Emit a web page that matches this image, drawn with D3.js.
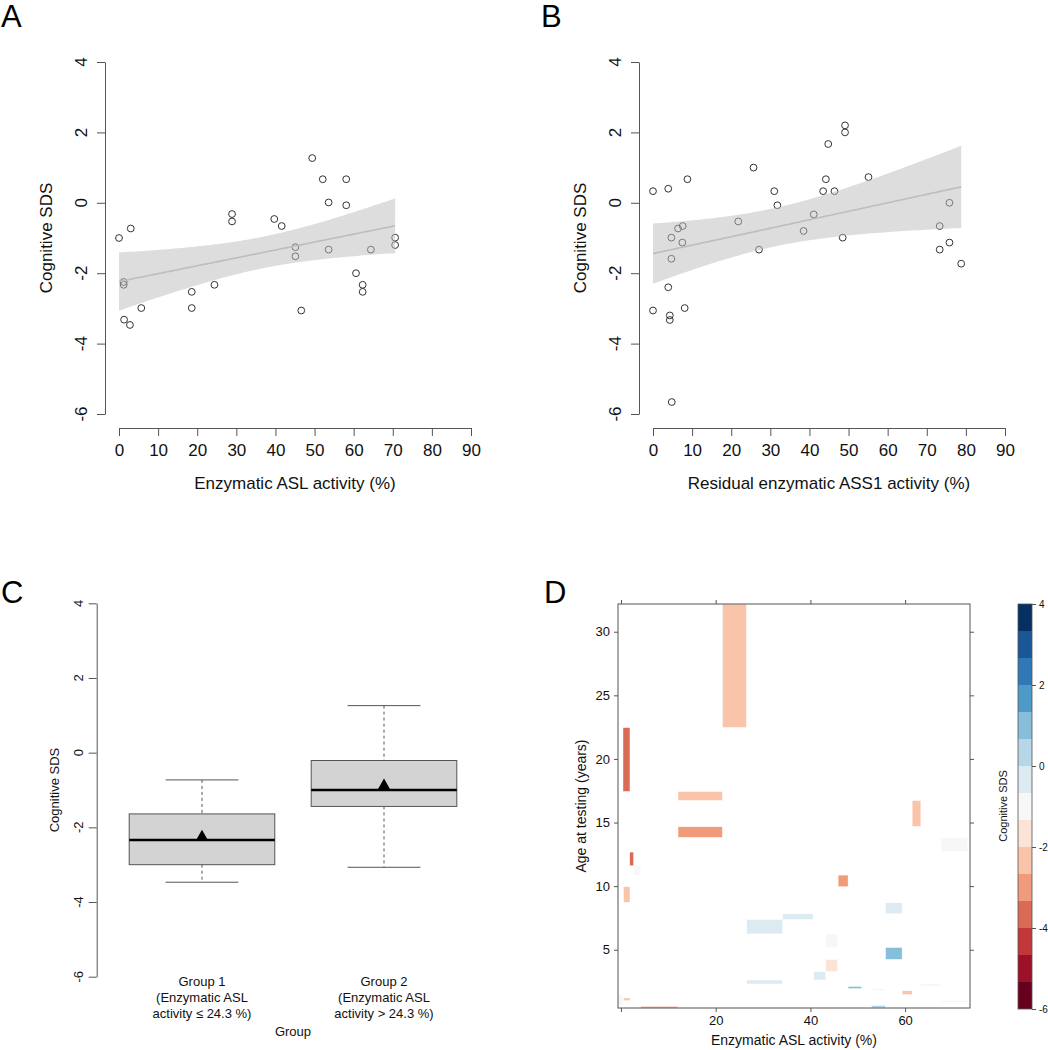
<!DOCTYPE html>
<html>
<head>
<meta charset="utf-8">
<script src="https://cdn.jsdelivr.net/npm/d3@7"></script>
<style>
  body { margin: 0; background: #fff; }
  svg { display: block; font-family: "Liberation Sans", Arial, sans-serif; }
</style>
</head>
<body>
<div id="chart"></div>
<script>
// ---- panel A: ASL activity vs cognitive SDS
var aslActivity = [0, 3.0, 1.2, 1.2, 1.3, 2.8, 5.7, 18.6, 18.6, 24.4, 28.9, 28.9, 39.7, 41.6, 45.1,
  45.1, 46.6, 49.4, 52.1, 53.6, 53.6, 58.1, 58.1, 60.6, 62.3, 62.3, 64.4, 70.6, 70.6];
var aslSDS = [-1.0, -0.73, -2.25, -2.33, -3.32, -3.47, -2.99, -2.53, -2.99, -2.33, -0.32, -0.53, -0.46, -0.66, -1.26,
  -1.52, -3.06, 1.27, 0.67, 0.01, -1.33, 0.67, -0.07, -2.0, -2.33, -2.53, -1.33, -0.99, -1.2];

// ---- panel B: residual ASS1 activity vs cognitive SDS
var assActivity = [0, 3.9, 8.8, 0, 3.9, 4.3, 4.3, 8.1, 4.7, 4.7, 6.4, 7.6, 7.5, 21.8, 25.7, 27.1, 31.0,
  31.8, 38.5, 41.1, 43.5, 44.2, 44.8, 46.4, 48.5, 49.1, 49.1, 55.1, 73.3, 73.3, 75.8, 75.8, 78.8, 4.8];
var assSDS = [0.33, 0.40, 0.67, -3.06, -2.40, -3.2, -3.33, -2.99, -0.99, -1.59, -0.73, -0.66, -1.13, -0.53, 1.0, -1.33, 0.33,
  -0.07, -0.80, -0.33, 0.33, 0.67, 1.67, 0.33, -0.99, 2.2, 2.0, 0.73, -0.66, -1.33, 0.0, -1.13, -1.73, -5.66];

// ---- panel C: box plot summaries
var groupLine1 = ["Group 1", "Group 2"];
var groupLine2 = ["(Enzymatic ASL", "(Enzymatic ASL"];
var groupLine3 = ["activity \u2264 24.3 %)", "activity > 24.3 %)"];
var boxMin = [-3.47, -3.07];
var boxQ1 = [-3.0, -1.44];
var boxMedian = [-2.34, -1.0];
var boxQ3 = [-1.64, -0.21];
var boxMax = [-0.73, 1.26];
var boxMean = [-2.25, -0.88];

// ---- panel D: level plot cells (x = ASL activity, y = age)
var cellX0 = [21.42, 0.42, 12.04, 61.48, 12.04, 1.84, 2.75, 0.51, 67.55, 45.85, 26.56, 34.16, 55.86, 43.25,
  55.86, 43.25, 40.65, 26.56, 47.96, 52.90, 59.37, 63.32, 67.55, 0.51, -0.63, 4.16, 52.90];
var cellX1 = [26.49, 1.90, 21.42, 63.32, 21.42, 2.68, 4.16, 1.90, 73.19, 47.96, 34.16, 40.57, 59.37, 45.72,
  59.37, 45.72, 43.25, 34.16, 50.79, 55.86, 61.48, 67.55, 73.19, 1.90, 0.42, 12.04, 55.86];
var cellY0 = [22.47, 17.44, 16.73, 14.69, 13.83, 11.60, 10.87, 8.72, 12.73, 9.95, 6.24, 7.38, 7.83, 5.18,
  4.24, 3.28, 2.62, 2.31, 1.94, 1.78, 1.47, 2.12, 0.86, 1.00, 0.68, 0.42, 0.42];
var cellY1 = [32.18, 22.47, 17.44, 16.73, 14.67, 12.68, 11.60, 9.95, 13.83, 10.87, 7.38, 7.83, 8.70, 6.24,
  5.18, 4.24, 3.28, 2.62, 2.12, 1.94, 1.78, 2.31, 1.02, 1.21, 1.47, 0.55, 0.63];
var cellSDS = [-2.33, -3.47, -2.25, -2.33, -2.99, -3.47, -1.0, -2.33, -1.2, -3.06, -0.53, -0.46, -0.07, -1.26,
  0.67, -1.52, -0.66, -0.32, 1.27, -1.3, -2.03, -1.33, -0.99, -2.25, -1.0, -2.99, 0.01];

var sdsTicks = [-6, -4, -2, 0, 2, 4];
var pctTicks = [0, 10, 20, 30, 40, 50, 60, 70, 80, 90];
var ageTicks = [5, 10, 15, 20, 25, 30];
var heatXTicks = [0, 20, 40, 60];

var svg = d3.select("#chart").append("svg")
    .attr("width", 1048)
    .attr("height", 1050);

var AXIS = "#555";
var TEXT = "#111";

function panelLetter(x, y, s) {
  svg.append("text").attr("x", x).attr("y", y)
      .style("font-size", "31px").style("fill", "#000").text(s);
}

// rotated y labels, R style (parallel to axis)
function rotatedLabels(g, y, vals, baseX, size) {
  g.selectAll(null).data(vals).enter().append("text")
      .attr("transform", function(d) { return "translate(" + baseX + "," + y(d) + ") rotate(-90)"; })
      .attr("text-anchor", "middle")
      .style("font-size", size).style("fill", TEXT)
      .text(function(d) { return String(d); });
}

function styleAxis(g) {
  g.selectAll("path, line").attr("stroke", AXIS);
  g.selectAll("text").style("fill", TEXT);
}

function fitBand(xs, ys) {
  var n = xs.length, mx = d3.mean(xs), my = d3.mean(ys);
  var sxx = d3.sum(xs, function(x) { return (x - mx) * (x - mx); });
  var sxy = d3.sum(xs, function(x, i) { return (x - mx) * (ys[i] - my); });
  var b = sxy / sxx, a = my - b * mx;
  var rss = d3.sum(xs, function(x, i) { var r = ys[i] - a - b * x; return r * r; });
  var s = Math.sqrt(rss / (n - 2));
  var t = 1.96 + 2.4 / (n - 2);
  var lo = d3.min(xs), hi = d3.max(xs);
  return d3.range(0, 81).map(function(k) {
    var x = lo + (hi - lo) * k / 80;
    var f = a + b * x;
    var se = s * Math.sqrt(1 / n + (x - mx) * (x - mx) / sxx);
    return { x: x, fit: f, lo: f - t * se, hi: f + t * se };
  });
}

function scatterPanel(xs, ys, x0, title) {
  var x = d3.scaleLinear().domain([0, 90]).range([x0 + 14, x0 + 366]);
  var y = d3.scaleLinear().domain([-6, 4]).range([414, 62]);
  var g = svg.append("g");

  g.append("g").attr("transform", "translate(0,428)")
      .call(d3.axisBottom(x).tickValues(pctTicks).tickSize(8).tickSizeOuter(0).tickPadding(8))
      .call(styleAxis)
      .selectAll("text").style("font-size", "17px").attr("font-family", null);
  g.append("g").attr("transform", "translate(" + x0 + ",0)")
      .call(d3.axisLeft(y).tickValues(sdsTicks).tickSize(8).tickSizeOuter(0).tickFormat(""))
      .call(styleAxis);
  rotatedLabels(g, y, sdsTicks, x0 - 18, "17px");

  g.append("text")
      .attr("transform", "translate(" + (x0 - 53) + "," + 238 + ") rotate(-90)")
      .attr("text-anchor", "middle").style("font-size", "17px").style("fill", TEXT)
      .text("Cognitive SDS");
  g.append("text").attr("x", x0 + 190).attr("y", 489)
      .attr("text-anchor", "middle").style("font-size", "17px").style("fill", TEXT)
      .text(title);

  g.selectAll("circle.pt").data(xs).enter().append("circle")
      .attr("class", "pt")
      .attr("cx", function(d) { return x(d); })
      .attr("cy", function(d, i) { return y(ys[i]); })
      .attr("r", 3.4)
      .attr("fill", "none").attr("stroke", "#333").attr("stroke-width", 1);

  var band = fitBand(xs, ys);
  g.append("path").datum(band)
      .attr("d", d3.area().x(function(d) { return x(d.x); })
        .y0(function(d) { return y(d.lo); }).y1(function(d) { return y(d.hi); }))
      .attr("fill", "rgb(188,188,188)").attr("fill-opacity", 0.5);
  g.append("path").datum(band)
      .attr("d", d3.line().x(function(d) { return x(d.x); }).y(function(d) { return y(d.fit); }))
      .attr("fill", "none").attr("stroke", "#bdbdbd").attr("stroke-width", 1.6);
}

panelLetter(1, 27, "A");
scatterPanel(aslActivity, aslSDS, 105, "Enzymatic ASL activity (%)");
panelLetter(541, 27, "B");
scatterPanel(assActivity, assSDS, 639, "Residual enzymatic ASS1 activity (%)");

// ---- panel C
panelLetter(1, 603, "C");
(function() {
  var x = d3.scaleLinear().domain([0.5, 2.5]).range([111, 475]);
  var y = d3.scaleLinear().domain([-6, 4]).range([976.7, 603.3]);
  var g = svg.append("g");
  g.append("g").attr("transform", "translate(96.7,0)")
      .call(d3.axisLeft(y).tickValues(sdsTicks).tickSize(8).tickSizeOuter(0).tickFormat(""))
      .call(styleAxis);
  rotatedLabels(g, y, sdsTicks, 83, "13px");
  g.append("text")
      .attr("transform", "translate(59," + y(-1) + ") rotate(-90)")
      .attr("text-anchor", "middle").style("font-size", "13px").style("fill", TEXT)
      .text("Cognitive SDS");

  var idx = [0, 1];
  var boxes = g.selectAll("g.box").data(idx).enter().append("g").attr("class", "box");
  boxes.append("line")
      .attr("x1", function(i) { return x(i + 1); }).attr("x2", function(i) { return x(i + 1); })
      .attr("y1", function(i) { return y(boxMax[i]); }).attr("y2", function(i) { return y(boxQ3[i]); })
      .attr("stroke", AXIS).attr("stroke-dasharray", "3,3");
  boxes.append("line")
      .attr("x1", function(i) { return x(i + 1); }).attr("x2", function(i) { return x(i + 1); })
      .attr("y1", function(i) { return y(boxQ1[i]); }).attr("y2", function(i) { return y(boxMin[i]); })
      .attr("stroke", AXIS).attr("stroke-dasharray", "3,3");
  [boxMax, boxMin].forEach(function(arr) {
    boxes.append("line")
        .attr("x1", function(i) { return x(i + 0.8); }).attr("x2", function(i) { return x(i + 1.2); })
        .attr("y1", function(i) { return y(arr[i]); }).attr("y2", function(i) { return y(arr[i]); })
        .attr("stroke", AXIS).attr("stroke-width", 1);
  });
  boxes.append("rect")
      .attr("x", function(i) { return x(i + 0.6); })
      .attr("width", function(i) { return x(i + 1.4) - x(i + 0.6); })
      .attr("y", function(i) { return y(boxQ3[i]); })
      .attr("height", function(i) { return y(boxQ1[i]) - y(boxQ3[i]); })
      .attr("fill", "#d3d3d3").attr("stroke", AXIS).attr("stroke-width", 1);
  boxes.append("line")
      .attr("x1", function(i) { return x(i + 0.6); }).attr("x2", function(i) { return x(i + 1.4); })
      .attr("y1", function(i) { return y(boxMedian[i]); }).attr("y2", function(i) { return y(boxMedian[i]); })
      .attr("stroke", "#000").attr("stroke-width", 2.6);
  boxes.append("path")
      .attr("transform", function(i) { return "translate(" + x(i + 1) + "," + y(boxMean[i]) + ")"; })
      .attr("d", d3.symbol(d3.symbolTriangle, 62))
      .attr("fill", "#000");

  var lines = [groupLine1, groupLine2, groupLine3];
  lines.forEach(function(arr, k) {
    g.selectAll(null).data(idx).enter().append("text")
        .attr("x", function(i) { return x(i + 1); })
        .attr("y", 986 + k * 16)
        .attr("text-anchor", "middle").style("font-size", "13px").style("fill", TEXT)
        .text(function(i) { return arr[i]; });
  });
  g.append("text").attr("x", 293).attr("y", 1036)
      .attr("text-anchor", "middle").style("font-size", "13px").style("fill", TEXT)
      .text("Group");
})();

// ---- panel D
panelLetter(544, 603, "D");
(function() {
  var x = d3.scaleLinear().domain([-0.63, 73.7]).range([618, 970]);
  var y = d3.scaleLinear().domain([0.42, 32.18]).range([1008, 604]);
  var brewer = ["#67001f", "#b2182b", "#d6604d", "#f4a582", "#fddbc7", "#f7f7f7",
    "#d1e5f0", "#92c5de", "#4393c3", "#2166ac", "#053061"];
  var palette = d3.quantize(d3.piecewise(d3.interpolateRgb, brewer), 15);
  var breaks = d3.range(1, 15).map(function(k) { return -6 + k * 10 / 15; });
  var color = d3.scaleThreshold().domain(breaks).range(palette);
  var g = svg.append("g");

  g.selectAll("rect.cell").data(cellSDS).enter().append("rect")
      .attr("class", "cell")
      .attr("x", function(d, i) { return x(cellX0[i]); })
      .attr("width", function(d, i) { return x(cellX1[i]) - x(cellX0[i]); })
      .attr("y", function(d, i) { return y(cellY1[i]); })
      .attr("height", function(d, i) { return y(cellY0[i]) - y(cellY1[i]); })
      .attr("fill", function(d) { return color(d); })
      .attr("stroke", "#fff").attr("stroke-width", 0.5);

  g.append("rect").attr("x", 618).attr("y", 604).attr("width", 352).attr("height", 404)
      .attr("fill", "none").attr("stroke", AXIS).attr("stroke-width", 1);

  g.append("g").attr("transform", "translate(618,0)")
      .call(d3.axisLeft(y).tickValues(ageTicks).tickSize(4).tickSizeOuter(0).tickPadding(4))
      .call(styleAxis)
      .call(function(a) { a.select(".domain").remove(); })
      .selectAll("text").style("font-size", "13px").attr("font-family", null);
  g.append("g").attr("transform", "translate(970,0)")
      .call(d3.axisRight(y).tickValues(ageTicks).tickSize(4).tickSizeOuter(0).tickFormat(""))
      .call(styleAxis)
      .call(function(a) { a.select(".domain").remove(); });
  g.append("g").attr("transform", "translate(0,1008)")
      .call(d3.axisBottom(x).tickValues(heatXTicks).tickSize(4).tickSizeOuter(0).tickPadding(4)
        .tickFormat(function(d) { return d === 0 ? "" : String(d); }))
      .call(styleAxis)
      .call(function(a) { a.select(".domain").remove(); })
      .selectAll("text").style("font-size", "13px").attr("font-family", null);
  g.append("g").attr("transform", "translate(0,604)")
      .call(d3.axisTop(x).tickValues(heatXTicks).tickSize(4).tickSizeOuter(0).tickFormat(""))
      .call(styleAxis)
      .call(function(a) { a.select(".domain").remove(); });

  g.append("text")
      .attr("transform", "translate(586,806) rotate(-90)")
      .attr("text-anchor", "middle").style("font-size", "14px").style("fill", TEXT)
      .text("Age at testing (years)");
  g.append("text").attr("x", 794).attr("y", 1045)
      .attr("text-anchor", "middle").style("font-size", "14px").style("fill", TEXT)
      .text("Enzymatic ASL activity (%)");

  // colour key
  var k = d3.scaleLinear().domain([-6, 4]).range([1009, 604]);
  var keyBins = d3.range(0, 15).map(function(i) { return -6 + i * 10 / 15; });
  g.selectAll("rect.key").data(keyBins).enter().append("rect")
      .attr("class", "key")
      .attr("x", 1018).attr("width", 14)
      .attr("y", function(d) { return k(d + 10 / 15); })
      .attr("height", function(d) { return k(d) - k(d + 10 / 15); })
      .attr("fill", function(d) { return color(d + 0.01); });
  g.append("rect").attr("x", 1018).attr("y", 604).attr("width", 14).attr("height", 405)
      .attr("fill", "none").attr("stroke", AXIS).attr("stroke-width", 0.8);
  g.append("g").attr("transform", "translate(1032,0)")
      .call(d3.axisRight(k).tickValues(sdsTicks).tickSize(4).tickSizeOuter(0).tickPadding(3)
        .tickFormat(function(d) { return String(d); }))
      .call(styleAxis)
      .call(function(a) { a.select(".domain").remove(); })
      .selectAll("text").style("font-size", "10px").attr("font-family", null);
  g.append("text")
      .attr("transform", "translate(1007,806) rotate(-90)")
      .attr("text-anchor", "middle").style("font-size", "11px").style("fill", TEXT)
      .text("Cognitive SDS");
})();
</script>
</body>
</html>
